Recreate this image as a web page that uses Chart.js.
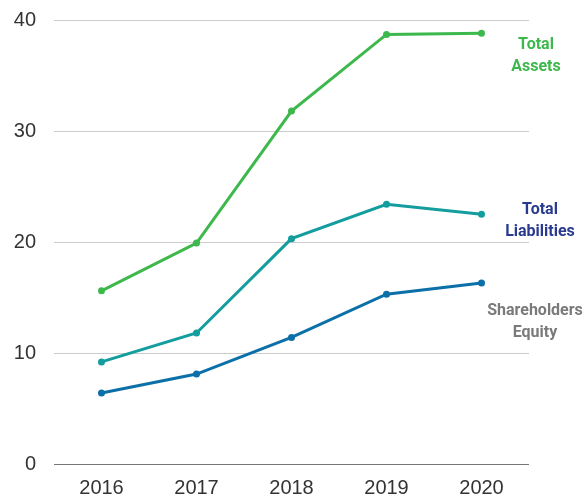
<!DOCTYPE html>
<html>
<head>
<meta charset="utf-8">
<script src="https://cdn.jsdelivr.net/npm/chart.js@4/dist/chart.umd.min.js"></script>
<style>
  body { margin: 0; background: #fff; }
  canvas { display: block; }
</style>
</head>
<body>
<canvas id="balance" width="587" height="497"></canvas>
<script>
const years = ['2016', '2017', '2018', '2019', '2020'];
const totalAssets = [15.6, 19.9, 31.8, 38.7, 38.8];
const totalLiabilities = [9.2, 11.8, 20.3, 23.4, 22.5];
const shareholdersEquity = [6.4, 8.1, 11.4, 15.3, 16.3];
const yTicks = [0, 10, 20, 30, 40];

// labels drawn at the right of the plot
const endLabels = [
    { lines: ['Total', 'Assets'], color: '#3cb84c', at: 36.8, x: 536 },
    { lines: ['Total', 'Liabilities'], color: '#2a3b8f', at: 21.9, x: 540 },
    { lines: ['Shareholders', 'Equity'], color: '#7a7a7a', at: 12.75, x: 535 }
];

const endLabelPlugin = {
    id: 'endLabels',
    afterDraw(chart) {
        const ctx = chart.ctx;
        const y = chart.scales.y;
        ctx.save();
        ctx.font = 'bold 16px Roboto';
        ctx.textAlign = 'center';
        ctx.textBaseline = 'middle';
        endLabels.forEach(l => {
            const cy = y.getPixelForValue(l.at);
            ctx.fillStyle = l.color;
            ctx.fillText(l.lines[0], l.x, cy - 11);
            ctx.fillText(l.lines[1], l.x, cy + 11);
        });
        ctx.restore();
    }
};

const line = (data, color) => ({
    data: data,
    borderColor: color,
    backgroundColor: color,
    borderWidth: 3,
    pointRadius: 3.5,
    pointBorderWidth: 0,
    tension: 0
});

new Chart(document.getElementById('balance').getContext('2d'), {
    type: 'line',
    data: {
        labels: years,
        datasets: [
            line(totalAssets, '#3cb84c'),
            line(totalLiabilities, '#149d9e'),
            line(shareholdersEquity, '#0b6fa8')
        ]
    },
    options: {
        responsive: false,
        animation: false,
        layout: { padding: { top: 20, right: 58, bottom: 0, left: 14 } },
        plugins: {
            legend: { display: false },
            tooltip: { enabled: false }
        },
        scales: {
            x: {
                offset: true,
                afterFit: axis => { axis.height = 33; },
                grid: { display: false, drawTicks: false },
                border: { display: false },
                ticks: {
                    color: '#333',
                    font: { family: 'Liberation Sans', size: 20 },
                    padding: 12
                }
            },
            y: {
                min: 0,
                max: 40,
                afterBuildTicks: axis => { axis.ticks = yTicks.map(v => ({ value: v })); },
                afterFit: axis => {
                    axis.width = 40;
                    axis.paddingTop = 0;
                    axis.paddingBottom = 0;
                },
                grid: {
                    drawTicks: false,
                    color: c => c.tick.value === 0 ? '#777' : '#ccc',
                    lineWidth: 1
                },
                border: { display: false },
                ticks: {
                    color: '#333',
                    font: { family: 'Liberation Sans', size: 20 },
                    padding: 18
                }
            }
        }
    },
    plugins: [endLabelPlugin]
});
</script>
</body>
</html>
